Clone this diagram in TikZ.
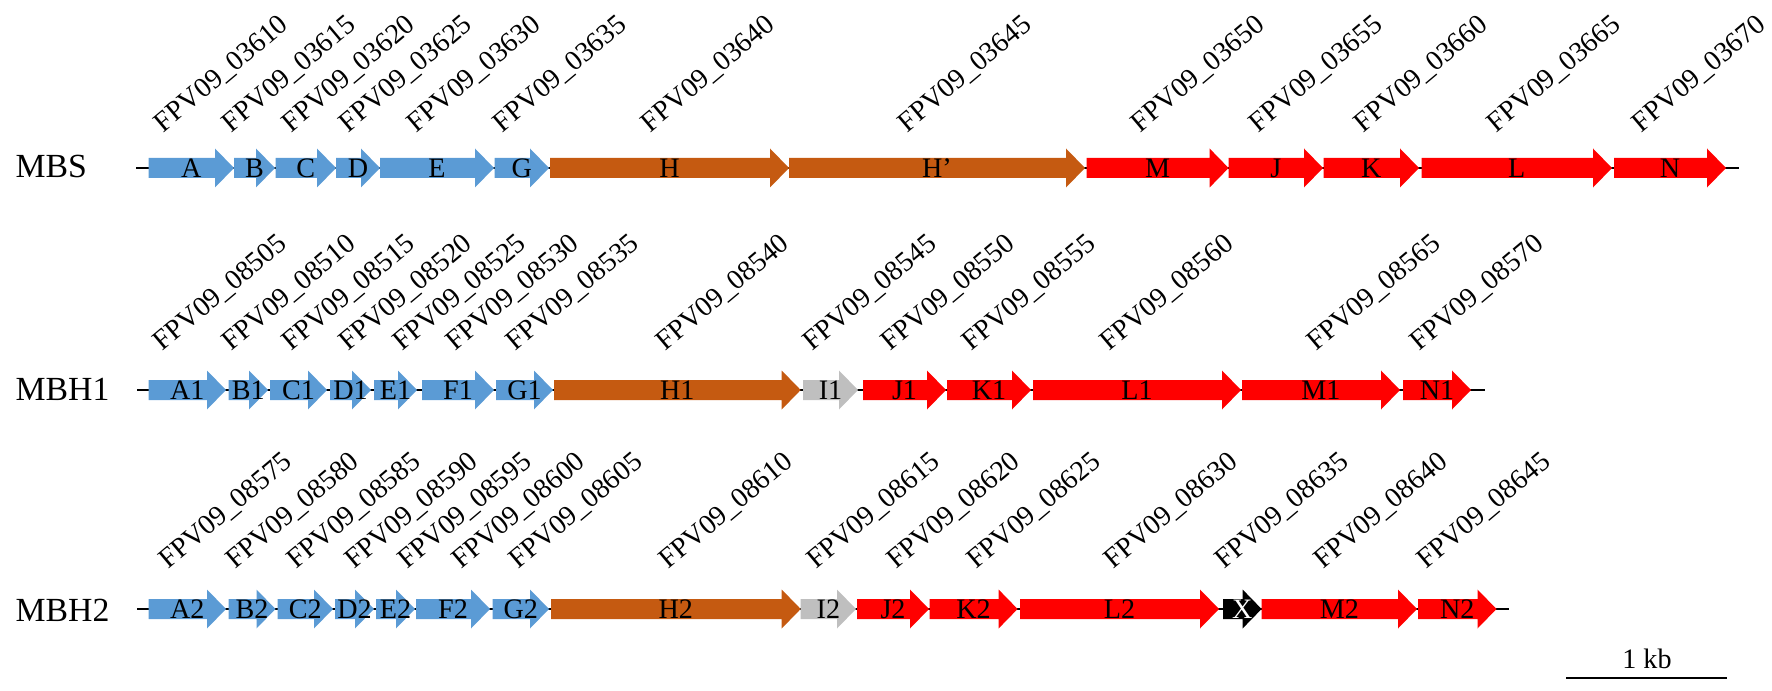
\documentclass[tikz,border=0pt]{standalone}
\usepackage{fontspec}
\setmainfont{Liberation Serif}
\definecolor{geneblue}{HTML}{5B9BD5}
\definecolor{geneorange}{HTML}{C55A11}
\definecolor{genered}{HTML}{FF0000}
\definecolor{genegray}{HTML}{BFBFBF}
\tikzset{
	blue gene/.style={fill=geneblue},
	orange gene/.style={fill=geneorange},
	red gene/.style={fill=genered},
	gray gene/.style={fill=genegray},
	black gene/.style={fill=black},
	genetxt/.style={anchor=base, inner sep=0pt, font=\fontsize{8}{10}\selectfont},
	locuslbl/.style={anchor=base west, inner sep=0pt, rotate=40, font=\fontsize{8}{10}\selectfont},
	rowlbl/.style={anchor=base west, inner sep=0pt, font=\fontsize{9.6}{11}\selectfont},
	backbone/.style={line width=0.5pt}
}
% #1 name, #2 start, #3 tip, #4 row, #5 style, #6 text
\newcommand{\drawgene}[6]{%
	\fill[#5] (#2,#4-10) -- (#3-19,#4-10) -- (#3-19,#4-19.5) -- (#3,#4)
		-- (#3-19,#4+19.5) -- (#3-19,#4+10) -- (#2,#4+10) -- cycle;
	\node[genetxt] (#1) at ({(#2+#3)/2},#4+9.5) {#6};
}
% #1 x, #2 y, #3 locus number
\newcommand{\locus}[3]{\node[locuslbl] (l#3) at (#1,#2) {FPV09\_#3};}
\begin{document}
\begin{tikzpicture}[x=0.01cm, y=-0.01cm]
	\useasboundingbox (0,0) rectangle (1772,691);
	
	% 1. backbones
	\coordinate (s1) at (136,168);
	\coordinate (e1) at (1738.6,168);
	\coordinate (s2) at (137,390);
	\coordinate (e2) at (1485,390);
	\coordinate (s3) at (137,609);
	\coordinate (e3) at (1509,609);
	\draw[backbone] (s1) -- (e1);
	\draw[backbone] (s2) -- (e2);
	\draw[backbone] (s3) -- (e3);
	
	% 2. row names
	\node[rowlbl] (mbs) at (15,178) {MBS};
	\node[rowlbl] (mbh1) at (15,400) {MBH1};
	\node[rowlbl] (mbh2) at (15,621) {MBH2};
	
	% 3. MBS
	\drawgene{gA}{148.5}{234}{168}{blue gene}{A}
	\drawgene{gB}{234}{275}{168}{blue gene}{B}
	\drawgene{gC}{275.5}{336}{168}{blue gene}{C}
	\drawgene{gD}{336}{380}{168}{blue gene}{D}
	\drawgene{gE}{380}{494}{168}{blue gene}{E}
	\drawgene{gG}{494.5}{549}{168}{blue gene}{G}
	\drawgene{gH}{550}{789}{168}{orange gene}{H}
	\drawgene{gHp}{789}{1085}{168}{orange gene}{H’}
	\drawgene{gM}{1086.5}{1228.6}{168}{red gene}{M}
	\drawgene{gJ}{1228.6}{1323}{168}{red gene}{J}
	\drawgene{gK}{1323.7}{1419}{168}{red gene}{K}
	\drawgene{gL}{1421.5}{1612}{168}{red gene}{L}
	\drawgene{gN}{1614}{1726}{168}{red gene}{N}
	
	\locus{163.3}{133.5}{03610}
	\locus{231}{133.5}{03615}
	\locus{290.5}{133.5}{03620}
	\locus{347.5}{133.5}{03625}
	\locus{416}{133.5}{03630}
	\locus{502}{133.5}{03635}
	\locus{650}{133.5}{03640}
	\locus{906.7}{133.5}{03645}
	\locus{1140}{133.5}{03650}
	\locus{1258}{133.5}{03655}
	\locus{1363}{133.5}{03660}
	\locus{1496}{133.5}{03665}
	\locus{1641}{133.5}{03670}
	
	% 4. MBH1
	\drawgene{gA1}{148.5}{226}{390}{blue gene}{A1}
	\drawgene{gB1}{228.5}{268}{390}{blue gene}{B1}
	\drawgene{gC1}{270}{327}{390}{blue gene}{C1}
	\drawgene{gD1}{330}{371}{390}{blue gene}{D1}
	\drawgene{gE1}{374}{417}{390}{blue gene}{E1}
	\drawgene{gF1}{422}{494}{390}{blue gene}{F1}
	\drawgene{gG1}{496}{553}{390}{blue gene}{G1}
	\drawgene{gH1}{554}{800.7}{390}{orange gene}{H1}
	\drawgene{gI1}{803}{858}{390}{gray gene}{I1}
	\drawgene{gJ1}{863}{946}{390}{red gene}{J1}
	\drawgene{gK1}{947}{1031}{390}{red gene}{K1}
	\drawgene{gL1}{1033}{1241}{390}{red gene}{L1}
	\drawgene{gM1}{1242}{1400}{390}{red gene}{M1}
	\drawgene{gN1}{1403}{1471}{390}{red gene}{N1}
	
	\locus{162}{352}{08505}
	\locus{231}{352}{08510}
	\locus{290.5}{352}{08515}
	\locus{347.5}{352}{08520}
	\locus{401.5}{352}{08525}
	\locus{454.5}{352}{08530}
	\locus{514.5}{352}{08535}
	\locus{664.5}{352}{08540}
	\locus{811.5}{352}{08545}
	\locus{890}{352}{08550}
	\locus{970.5}{352}{08555}
	\locus{1108.5}{352}{08560}
	\locus{1315.5}{352}{08565}
	\locus{1418.5}{352}{08570}
	
	% 5. MBH2
	\drawgene{gA2}{148.5}{226}{609}{blue gene}{A2}
	\drawgene{gB2}{228.5}{275.5}{609}{blue gene}{B2}
	\drawgene{gC2}{277.5}{333}{609}{blue gene}{C2}
	\drawgene{gD2}{335}{374}{609}{blue gene}{D2}
	\drawgene{gE2}{376}{415}{609}{blue gene}{E2}
	\drawgene{gF2}{416}{490}{609}{blue gene}{F2}
	\drawgene{gG2}{492.5}{549}{609}{blue gene}{G2}
	\drawgene{gH2}{551}{800.7}{609}{orange gene}{H2}
	\drawgene{gI2}{800.7}{856}{609}{gray gene}{I2}
	\drawgene{gJ2}{857}{929}{609}{red gene}{J2}
	\drawgene{gK2}{929.6}{1017.6}{609}{red gene}{K2}
	\drawgene{gL2}{1020}{1219}{609}{red gene}{L2}
	\drawgene{gX}{1223}{1261.6}{609}{black gene}{\color{white}X}
	\drawgene{gM2}{1261.6}{1417}{609}{red gene}{M2}
	\drawgene{gN2}{1418}{1496.5}{609}{red gene}{N2}
	
	\locus{167.5}{570}{08575}
	\locus{234.5}{570}{08580}
	\locus{296}{570}{08585}
	\locus{353.5}{570}{08590}
	\locus{407}{570}{08595}
	\locus{460.5}{570}{08600}
	\locus{518}{570}{08605}
	\locus{668}{570}{08610}
	\locus{815.5}{570}{08615}
	\locus{895.5}{570}{08620}
	\locus{976}{570}{08625}
	\locus{1112.5}{570}{08630}
	\locus{1223.5}{570}{08635}
	\locus{1322.5}{570}{08640}
	\locus{1425.5}{570}{08645}
	
	% 6. scale bar
	\coordinate (sb1) at (1566,678);
	\coordinate (sb2) at (1727,678);
	\draw[line width=0.6pt] (sb1) -- (sb2);
	\node[genetxt] (kb) at (1647,668) {1 kb};
\end{tikzpicture}
\end{document}
